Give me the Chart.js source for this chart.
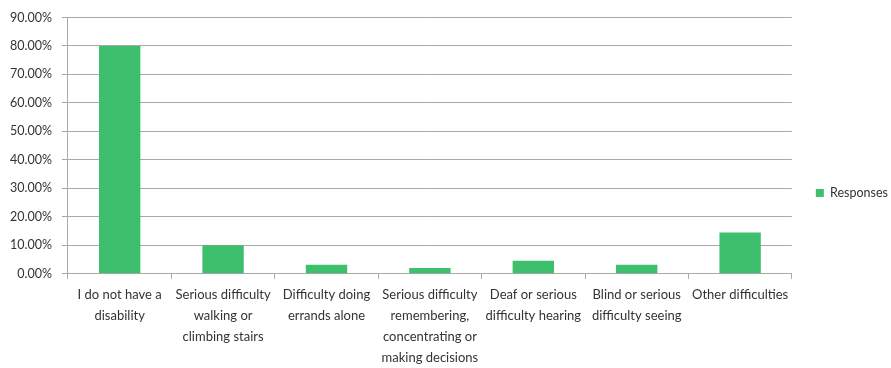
<!DOCTYPE html>
<html>
<head>
<meta charset="utf-8">
<script src="https://cdn.jsdelivr.net/npm/chart.js@4.4.1/dist/chart.umd.min.js"></script>
<style>
  html, body { margin: 0; padding: 0; background: #fff; }
  #wrap { width: 891px; height: 368px; }
</style>
</head>
<body>
<div id="wrap"><canvas id="chart" width="891" height="368"></canvas></div>
<script>
// answer categories (one array per wrapped label)
const categories = [
  ['I do not have a', 'disability'],
  ['Serious difficulty', 'walking or', 'climbing stairs'],
  ['Difficulty doing', 'errands alone'],
  ['Serious difficulty', 'remembering,', 'concentrating or', 'making decisions'],
  ['Deaf or serious', 'difficulty hearing'],
  ['Blind or serious', 'difficulty seeing'],
  ['Other difficulties']
];
// share of respondents, in percent
const responses = [80.0, 10.0, 3.2, 2.0, 4.6, 3.2, 14.5];
const yTicks = [0, 10, 20, 30, 40, 50, 60, 70, 80, 90];

const textColor = '#333333';
const lineColor = '#a9a9a9';
const family = 'Lato, "Open Sans", sans-serif';

const ctx = document.getElementById('chart').getContext('2d');
new Chart(ctx, {
  type: 'bar',
  data: {
    labels: categories,
    datasets: [{
      label: 'Responses',
      data: responses,
      backgroundColor: '#3dbf6d',
      categoryPercentage: 1,
      barPercentage: 0.4
    }]
  },
  options: {
    responsive: false,
    animation: false,
    layout: { padding: { top: 12, left: 0, right: -7, bottom: -6 } },
    scales: {
      x: {
        grid: { offset: true, drawOnChartArea: false, drawTicks: true, tickLength: 5, color: lineColor },
        border: { color: lineColor },
        ticks: {
          color: textColor,
          font: { family: family, size: 13, lineHeight: 1.6 },
          padding: 6,
          maxRotation: 0,
          autoSkip: false
        }
      },
      y: {
        min: 0,
        max: 90,
        afterBuildTicks: (axis) => { axis.ticks = yTicks.map(v => ({ value: v })); },
        grid: { color: lineColor, tickLength: 6 },
        border: { color: lineColor },
        ticks: {
          color: textColor,
          font: { family: family, size: 12.5 },
          padding: 10,
          callback: (v) => v.toFixed(2) + '%'
        }
      }
    },
    plugins: {
      legend: {
        position: 'right',
        labels: {
          color: textColor,
          font: { family: family, size: 12.5 },
          boxWidth: 8,
          boxHeight: 8,
          padding: 24
        }
      },
      tooltip: { enabled: false }
    }
  }
});
</script>
</body>
</html>
